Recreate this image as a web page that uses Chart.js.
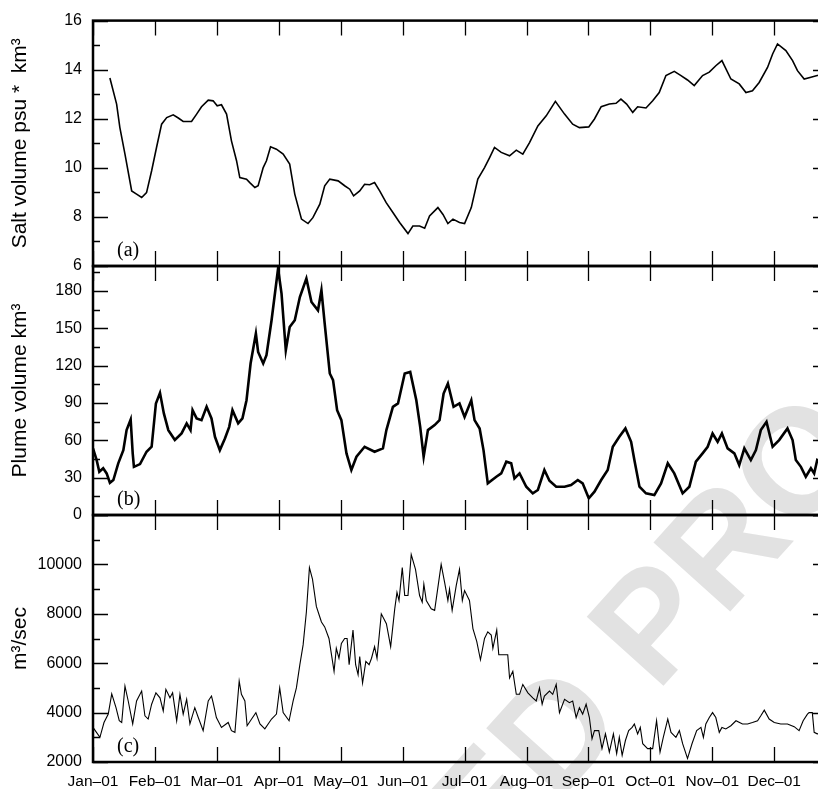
<!DOCTYPE html>
<html>
<head>
<meta charset="utf-8">
<script src="https://cdn.jsdelivr.net/npm/chart.js@4.4.1/dist/chart.umd.min.js"></script>
<style>
  html, body { margin: 0; padding: 0; background: #fff; overflow: hidden; width: 818px; height: 789px; }
  canvas { position: absolute; left: 0; top: 0; }
</style>
</head>
<body>
<canvas id="painelA" width="840" height="789"></canvas>
<canvas id="painelB" width="840" height="789"></canvas>
<canvas id="painelC" width="840" height="789"></canvas>
<script>
// eixo x: dias do ano, marcas a cada 365/12 dias
const meses = ['Jan–01', 'Feb–01', 'Mar–01', 'Apr–01', 'May–01', 'Jun–01',
               'Jul–01', 'Aug–01', 'Sep–01', 'Oct–01', 'Nov–01', 'Dec–01'];
const marcasMeses = meses.map((m, i) => i * 365 / 12);

// (a) volume de sal
const salDias = [8.3, 11.6, 13.2, 15.7, 19.0, 21.4, 23.9, 26.3, 28.8, 31.2, 33.7, 36.2, 39.4, 41.9, 44.3, 48.4,
  50.9, 53.3, 56.6, 59.0, 61.0, 63.1, 65.6, 68.0, 70.5, 72.1, 75.4, 77.0, 79.5, 81.1, 83.6, 85.2, 87.2, 90.1,
  93.4, 96.6, 99.1, 102.4, 105.6, 108.0, 111.4, 113.8, 116.3, 120.4, 123.6, 126.1, 128.0, 131.0, 133.4, 135.9,
  138.3, 140.8, 144.0, 147.3, 150.6, 154.7, 157.1, 160.4, 162.9, 165.3, 169.4, 171.9, 174.3, 176.8, 180.0,
  182.5, 185.8, 189.0, 192.3, 194.8, 197.2, 200.5, 204.6, 207.9, 211.1, 214.4, 218.5, 222.6, 227.1, 231.6,
  235.6, 238.9, 243.5, 246.3, 249.6, 253.6, 256.9, 259.3, 262.1, 265.1, 267.5, 271.6, 274.9, 278.1, 281.4,
  285.5, 288.8, 292.0, 295.3, 299.4, 302.7, 305.9, 308.9, 313.3, 317.4, 320.7, 323.9, 327.2, 331.3, 333.8,
  336.2, 340.3, 343.6, 346.0, 349.3, 352.6, 355.7, 360.0];
const salValores = [13.66, 12.6, 11.64, 10.56, 9.06, 8.93, 8.79, 8.99, 9.88, 10.83, 11.78, 12.05, 12.16, 12.03,
  11.89, 11.89, 12.19, 12.49, 12.76, 12.73, 12.53, 12.57, 12.19, 11.1, 10.29, 9.6, 9.54, 9.4, 9.2, 9.27, 10.01,
  10.29, 10.86, 10.76, 10.56, 10.15, 8.93, 7.91, 7.73, 7.97, 8.52, 9.27, 9.54, 9.47, 9.27, 9.13, 8.86, 9.06,
  9.33, 9.31, 9.4, 9.06, 8.58, 8.18, 7.77, 7.32, 7.63, 7.63, 7.54, 8.04, 8.38, 8.1, 7.73, 7.91, 7.77, 7.73,
  8.38, 9.54, 10.01, 10.42, 10.83, 10.63, 10.49, 10.72, 10.56, 11.03, 11.71, 12.12, 12.71, 12.19, 11.78,
  11.64, 11.67, 11.99, 12.49, 12.6, 12.63, 12.8, 12.6, 12.26, 12.49, 12.44, 12.73, 13.07, 13.76, 13.93,
  13.76, 13.58, 13.35, 13.76, 13.9, 14.16, 14.37, 13.62, 13.42, 13.07, 13.14, 13.48, 14.09, 14.64, 15.05,
  14.78, 14.37, 13.96, 13.62, 13.69, 13.76, 13.8];

// (b) volume da pluma
const plumaDias = [0, 1.8, 3.1, 5, 6.7, 8.3, 10, 12.4, 14.9, 16.5, 18.5, 19.5, 20.1, 23.1, 26.3, 28.8, 30.9,
  32.9, 34.8, 37, 40.2, 43.5, 46, 47.9, 48.9, 50.9, 53.3, 55.8, 58.2, 59.9, 62.3, 64.8, 66.9, 68.5, 71.3,
  73.4, 75.4, 77.4, 80, 81.1, 83.6, 85.2, 87.7, 90.9, 92.6, 94.2, 94.7, 96.6, 99.1, 101.6, 104.8, 107.3,
  110.5, 112.2, 113.8, 116.3, 117.9, 119.9, 122, 124.5, 126.9, 129.4, 133.4, 138.3, 142.4, 144.1, 147.3,
  149.8, 153.1, 155.8, 158.8, 160.7, 162.4, 164.5, 167.8, 170.2, 172.2, 174.3, 177.1, 180, 182.5, 185.8,
  187.4, 189.9, 191.8, 193.9, 198.1, 200.5, 203, 205.4, 207, 209.5, 212.8, 216, 218.5, 221.7, 224.2, 227.5,
  231.6, 234.8, 238.1, 240.5, 243.5, 246.3, 249.6, 252.8, 255.3, 258.5, 261.5, 264.3, 265.9, 268.4, 271.6,
  275.7, 279, 282.3, 285.5, 289.6, 292.9, 296.1, 299.4, 301.9, 304.3, 306.8, 308.9, 311.7, 315, 317.4,
  319.9, 323.1, 325.6, 328, 330.8, 333.8, 337, 341.1, 343.6, 345.2, 347.7, 350.1, 352.6, 354.2, 355.7, 360];
const plumaValores = [53.5, 44.1, 34.7, 37.5, 33.4, 25.9, 28.1, 41.5, 52.1, 68.2, 76.7, 49.5, 38.7, 40.9,
  50.8, 54.8, 89.6, 98.1, 81.6, 68.2, 60.2, 65.5, 73.6, 68.2, 84.2, 77.6, 76.2, 86.9, 77.6, 62.8, 52.1, 61.5,
  70.8, 84.2, 73.6, 77.6, 92.2, 121.7, 145.7, 131, 121.7, 128.3, 156.4, 197.9, 177.8, 143, 132.3, 151,
  156.4, 175.1, 189.9, 171.1, 164.4, 180.5, 153.8, 113.7, 108.3, 84.2, 76.2, 49.5, 36.1, 46.8, 54.8, 50.8,
  53.5, 68.2, 86.9, 89.6, 113.7, 114.9, 92.2, 70.8, 46.8, 68.2, 72.2, 76.2, 97.6, 105.6, 86.9, 89.6, 78.8,
  92.2, 76.2, 69.5, 52.1, 25.4, 30.7, 33.4, 42.8, 41.5, 29.4, 33.4, 22.7, 17.4, 20.1, 36.1, 27.5, 22.7,
  22.7, 24.1, 28.1, 25.4, 13.4, 18.7, 28.1, 36.1, 54.8, 62.8, 69.5, 58.8, 44.1, 22.7, 17.4, 16, 25.4, 41.5,
  33.4, 17.4, 22.7, 42.8, 49.5, 54.8, 65.5, 58.8, 65.5, 53.5, 49.5, 40.1, 53.5, 44.1, 52.1, 68.2, 74.8,
  54.8, 60.2, 69.5, 60.2, 44.1, 38.7, 30.7, 37.5, 33.4, 44.1, 40];

// (c) vazão do rio
const vazaoDias = [0, 3.4, 5.4, 7.5, 9.2, 11.3, 12.9, 14.1, 15.7, 17.3, 19.5, 21.4, 23.9, 25.5, 27.1, 28.8,
  30.9, 32.9, 34.5, 35.8, 37.8, 39.1, 41.1, 42.7, 44.3, 46, 47.6, 50, 51.7, 54.1, 56.6, 58.2, 59, 60.6, 63.1,
  66.4, 68, 69.7, 71.8, 72.9, 74.6, 75.7, 77.9, 80, 82, 84.4, 87.7, 90.1, 91.7, 93.4, 96.3, 98.3, 99.9, 101.6,
  103.2, 104.8, 106.3, 107.8, 109.7, 111.4, 112.2, 113.8, 115.9, 118.4, 119.5, 120.8, 122, 123.6, 124.8,
  125.8, 127.7, 129, 130.2, 131, 132.4, 134, 135.6, 136.8, 138.3, 139.5, 141.6, 144.1, 146.2, 148.2, 149.3,
  150.3, 151.9, 153.1, 154.7, 156.3, 158.4, 160.4, 161.7, 162.5, 163.7, 166.1, 167.8, 171, 172.7, 174.3,
  175.1, 176.4, 178.4, 180, 181.4, 182.5, 184.9, 186.6, 188.5, 190.3, 192.3, 193.9, 195.6, 196.4, 198.3,
  199.3, 201.3, 203.7, 204.6, 206.2, 207.9, 209.5, 211.1, 213.6, 216, 217.7, 219.3, 220.6, 221.7, 224.2,
  225.8, 227.5, 229.1, 231.6, 234, 235.6, 237.3, 238.9, 240.5, 242.2, 243.8, 245.1, 246.3, 248.4, 250,
  251.7, 253.6, 255.6, 257.2, 258.5, 259.9, 261.5, 263.1, 264.8, 265.9, 267.5, 268.8, 270, 272.4, 274.9,
  276.8, 278.5, 280.1, 282.3, 283.9, 286.3, 288, 289.6, 292, 294.2, 296.5, 298.6, 299.8, 301, 302.7, 304.3,
  305.9, 307.6, 308.9, 310.8, 313.3, 315.8, 319, 321.5, 323.9, 326.4, 328, 329.7, 332.1, 334.6, 337.8,
  341.1, 344.4, 346.8, 348.8, 350.9, 351.7, 353.3, 354.2, 355.7, 360];
const vazaoValores = [3400, 3000, 3600, 3940, 4760, 4200, 3670, 3600, 5070, 4470, 3540, 4470, 4870, 3870,
  3740, 4340, 4800, 4600, 4070, 4940, 4600, 4800, 3670, 4740, 3940, 4540, 3540, 4200, 3800, 3270, 4470, 4670,
  4400, 3800, 3400, 3600, 3270, 3200, 5270, 4740, 4470, 3470, 3740, 4000, 3540, 3340, 3740, 3940, 5000, 4000,
  3670, 4470, 5000, 5940, 6740, 8070, 9870, 9400, 8300, 7870, 7670, 7470, 7000, 5670, 6600, 6200, 6800, 7000,
  7000, 5940, 7340, 5940, 5540, 6270, 5200, 6070, 5940, 6200, 6670, 6200, 8000, 7600, 6670, 8200, 8870, 8540,
  9870, 8740, 8740, 10400, 9800, 8740, 8470, 9200, 8540, 8200, 8140, 10000, 9270, 8540, 9000, 8140, 9140,
  9800, 8540, 8940, 8540, 7400, 6870, 6140, 7000, 7270, 7140, 6600, 7340, 6340, 6340, 6340, 5400, 5670, 4740,
  4740, 5140, 4800, 4600, 4470, 5000, 4340, 4670, 4870, 4740, 5140, 4000, 4540, 4400, 4470, 3800, 4200, 3940,
  4340, 3800, 2940, 3270, 3270, 2540, 3140, 2400, 3140, 2340, 3000, 2270, 2870, 3270, 3400, 3540, 3140, 3400,
  2740, 2540, 2540, 3670, 2400, 3000, 3740, 3200, 3000, 3270, 2740, 2140, 2740, 3270, 3400, 3000, 3540, 3800,
  4000, 3800, 3200, 3400, 3340, 3470, 3670, 3540, 3540, 3600, 3670, 3870, 4100, 3740, 3600, 3540, 3540, 3430,
  3270, 3670, 3940, 4000, 4000, 3200, 3140, 3200];

// marcas do eixo y
const salMarcas = [6, 7, 8, 9, 10, 11, 12, 13, 14, 15, 16];
const plumaMarcas = [0, 15, 30, 45, 60, 75, 90, 105, 120, 135, 150, 165, 180, 195];
const vazaoMarcas = [2000, 3000, 4000, 5000, 6000, 7000, 8000, 9000, 10000, 11000, 12000];

const fonte = '"Liberation Sans", Arial, sans-serif';

function juntar(dias, valores) {
  return dias.map((d, i) => ({ x: d, y: valores[i] }));
}

const moldura = {
  id: 'moldura',
  afterDraw(chart, args, o) {
    const { ctx, chartArea: a, scales: { x, y } } = chart;
    ctx.save();
    ctx.strokeStyle = '#000';
    ctx.lineWidth = 1.3;
    ctx.beginPath();
    marcasMeses.forEach(d => {
      const px = Math.round(x.getPixelForValue(d)) + 0.5;
      ctx.moveTo(px, a.top); ctx.lineTo(px, a.top + 15);
      ctx.moveTo(px, a.bottom); ctx.lineTo(px, a.bottom - 15);
    });
    o.marcas.forEach(v => {
      const py = Math.round(y.getPixelForValue(v)) + 0.5;
      const len = (v % o.passo === 0) ? 15 : 7;
      ctx.moveTo(a.left, py); ctx.lineTo(a.left + len, py);
      ctx.moveTo(a.right, py); ctx.lineTo(a.right - len, py);
    });
    ctx.stroke();
    ctx.lineWidth = 2.5;
    ctx.strokeRect(a.left, a.top, a.right - a.left, a.bottom - a.top);
    ctx.fillStyle = '#000';
    ctx.font = '20px "Liberation Serif", "Times New Roman", serif';
    ctx.textBaseline = 'alphabetic';
    ctx.fillText(o.rotulo, a.left + 24, a.bottom - 10);
    ctx.restore();
  }
};

// marca d'água cinza, inclinada, por trás das curvas
const marcaDagua = {
  id: 'marcaDagua',
  beforeDraw(chart) {
    const ctx = chart.ctx;
    const tam = 150;
    ctx.save();
    ctx.font = 'bold ' + tam + 'px ' + fonte;
    ctx.fillStyle = '#e2e2e2';
    ctx.translate(650, 620);
    ctx.rotate(-48 * Math.PI / 180);
    const antes = ctx.measureText('UNCORRECTED ').width;
    const letraP = ctx.measureText('P').width;
    ctx.fillText('UNCORRECTED PROOF', -antes - letraP / 2, tam * 0.36);
    ctx.restore();
  }
};

function criarPainel(id, cfg) {
  return new Chart(document.getElementById(id), {
    type: 'line',
    data: {
      datasets: [{
        data: juntar(cfg.dias, cfg.valores),
        borderColor: '#000',
        borderWidth: cfg.espessura,
        pointRadius: 0,
        tension: 0,
        clip: 0
      }]
    },
    options: {
      responsive: false,
      animation: false,
      events: [],
      layout: { padding: { left: 0, right: 12, top: cfg.topo, bottom: cfg.base } },
      plugins: {
        legend: { display: false },
        tooltip: { enabled: false },
        moldura: { marcas: cfg.marcas, passo: cfg.passo, rotulo: cfg.rotulo }
      },
      scales: {
        x: {
          type: 'linear',
          min: 0,
          max: 361,
          display: cfg.mostrarX,
          grid: { display: false, drawTicks: false },
          border: { display: false },
          afterBuildTicks: s => { s.ticks = marcasMeses.map(v => ({ value: v })); },
          afterFit: s => { s.height = cfg.mostrarX ? 27 : 0; },
          ticks: {
            autoSkip: false,
            maxRotation: 0,
            padding: 10,
            color: '#000',
            font: { family: fonte, size: 15.5 },
            callback: (v, i) => meses[i]
          }
        },
        y: {
          min: cfg.min,
          max: cfg.max,
          grid: { display: false, drawTicks: false },
          border: { display: false },
          afterBuildTicks: s => { s.ticks = cfg.marcas.map(v => ({ value: v })); },
          afterFit: s => { s.width = 93; },
          ticks: {
            autoSkip: false,
            padding: 11,
            color: '#000',
            font: { family: fonte, size: 16 },
            callback: v => cfg.rotulados.includes(v) ? String(v) : ''
          },
          title: {
            display: true,
            text: cfg.titulo,
            color: '#000',
            font: { family: fonte, size: 21 },
            padding: { top: 8, bottom: 0 }
          }
        }
      }
    },
    plugins: cfg.extra ? [moldura, marcaDagua] : [moldura]
  });
}

criarPainel('painelA', {
  dias: salDias, valores: salValores, espessura: 1.6,
  topo: 20, base: 789 - 266, min: 6, max: 16,
  marcas: salMarcas, passo: 2, rotulados: [6, 8, 10, 12, 14, 16],
  titulo: 'Salt volume psu *  km³', rotulo: '(a)', mostrarX: false, extra: true
});

criarPainel('painelB', {
  dias: plumaDias, valores: plumaValores, espessura: 2.6,
  topo: 266, base: 789 - 515, min: 0, max: 200,
  marcas: plumaMarcas, passo: 30, rotulados: [0, 30, 60, 90, 120, 150, 180],
  titulo: 'Plume volume km³', rotulo: '(b)', mostrarX: false
});

criarPainel('painelC', {
  dias: vazaoDias, valores: vazaoValores, espessura: 1.1,
  topo: 515, base: 0, min: 2000, max: 12000,
  marcas: vazaoMarcas, passo: 2000, rotulados: [2000, 4000, 6000, 8000, 10000],
  titulo: 'm³/sec', rotulo: '(c)', mostrarX: true
});
</script>
</body>
</html>
